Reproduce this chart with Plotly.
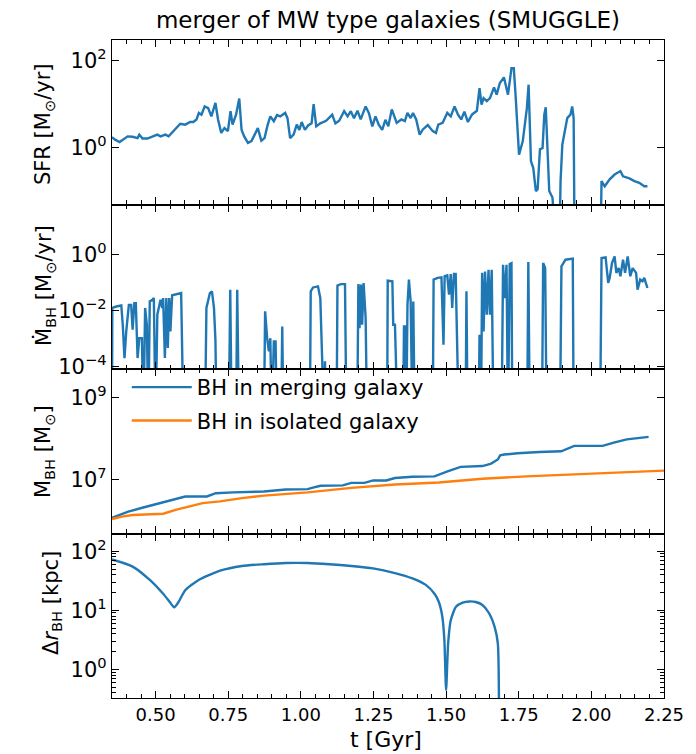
import numpy as np
import plotly.graph_objects as go
from plotly.subplots import make_subplots

# ---------------- data ----------------
# SFR panel: time [Gyr] and log10(SFR [Msun/yr]); -3 = dropped below the axis
sfr_t = [0.350, 0.359, 0.376, 0.393, 0.404, 0.421, 0.438, 0.444, 0.455, 0.472, 0.489, 0.506,
         0.517, 0.534, 0.545, 0.562, 0.585, 0.602, 0.619, 0.630, 0.641, 0.649, 0.658, 0.669,
         0.681, 0.692, 0.706, 0.715, 0.726, 0.737, 0.749, 0.758, 0.765, 0.777, 0.788, 0.796,
         0.805, 0.818, 0.830, 0.841, 0.852, 0.864, 0.875, 0.886, 0.895, 0.907, 0.918, 0.929,
         0.946, 0.954, 0.963, 0.975, 0.986, 0.995, 1.003, 1.014, 1.025, 1.037, 1.044, 1.053,
         1.067, 1.087, 1.108, 1.119, 1.132, 1.149, 1.161, 1.172, 1.183, 1.195, 1.206, 1.223,
         1.234, 1.246, 1.257, 1.268, 1.280, 1.291, 1.301, 1.313, 1.330, 1.346, 1.358, 1.367,
         1.378, 1.386, 1.397, 1.409, 1.420, 1.437, 1.454, 1.465, 1.473, 1.488, 1.504, 1.516,
         1.529, 1.541, 1.552, 1.563, 1.575, 1.589, 1.606, 1.615, 1.622, 1.629, 1.640, 1.651,
         1.665, 1.674, 1.685, 1.699, 1.713, 1.725, 1.733, 1.739, 1.751, 1.764, 1.778, 1.784,
         1.792, 1.800, 1.809, 1.815, 1.823, 1.832, 1.838, 1.843, 1.855, 1.866, 1.875, 1.888,
         1.894, 1.900, 1.917, 1.928, 1.934, 1.939, 1.943, 2.030, 2.035, 2.046, 2.063, 2.080,
         2.100, 2.109, 2.131, 2.148, 2.165, 2.182, 2.193]
sfr_log = [0.23, 0.18, 0.12, 0.20, 0.25, 0.24, 0.21, 0.29, 0.20, 0.20, 0.25, 0.29,
           0.25, 0.29, 0.25, 0.37, 0.54, 0.52, 0.58, 0.58, 0.64, 0.79, 0.75, 0.94,
           0.90, 0.71, 1.02, 0.64, 0.33, 0.44, 0.37, 0.83, 0.52, 0.75, 1.12, 0.40,
           0.25, 0.10, 0.14, 0.29, 0.44, 0.15, 0.21, 0.52, 0.71, 0.60, 0.74, 0.71,
           0.79, 0.67, 0.21, 0.29, 0.52, 0.40, 0.58, 0.40, 0.50, 0.55, 0.99, 0.48,
           0.55, 0.61, 0.75, 0.55, 0.61, 0.83, 0.71, 0.83, 0.67, 0.84, 0.64, 0.94,
           0.79, 0.48, 0.71, 0.52, 0.40, 0.63, 0.48, 0.87, 0.56, 0.64, 0.60, 0.79,
           0.67, 0.79, 0.64, 0.29, 0.41, 0.51, 0.37, 0.33, 0.52, 0.56, 0.79, 0.71,
           0.94, 0.75, 0.64, 0.82, 0.58, 0.75, 0.84, 1.36, 0.98, 1.13, 1.06, 1.13,
           1.38, 1.21, 1.48, 1.61, 1.21, 1.82, 1.82, 1.21, -0.17, 0.14, 0.90, 1.44,
           -0.32, -0.48, -1.01, -0.97, -0.05, -0.02, 0.75, 0.92, -1.01, -1.16, -3.0, -3.0,
           -0.78, 0.06, 0.67, 0.75, 0.94, 0.67, -3.0, -3.0, -0.78, -0.90, -0.74, -0.63,
           -0.55, -0.67, -0.72, -0.78, -0.82, -0.90, -0.90]

# BH accretion rate: time [Gyr] and log10(Mdot [Msun/yr]); -6 = no accretion
mdot_t = [0.350, 0.351, 0.365, 0.382, 0.387, 0.393, 0.399, 0.408, 0.416, 0.421, 0.427, 0.432,
          0.438, 0.444, 0.453, 0.458, 0.464, 0.470, 0.475, 0.480, 0.489, 0.494, 0.500, 0.506,
          0.517, 0.523, 0.526, 0.532, 0.537, 0.542, 0.547, 0.551, 0.557, 0.579, 0.588, 0.596,
          0.670, 0.675, 0.687, 0.694, 0.701, 0.706, 0.710, 0.752, 0.757, 0.762, 0.777, 0.781,
          0.787, 0.873, 0.877, 0.884, 0.890, 0.895, 0.900, 0.907, 0.913, 0.918, 0.932, 0.936,
          0.940, 1.031, 1.034, 1.042, 1.059, 1.067, 1.074, 1.080, 1.083, 1.087, 1.123, 1.126,
          1.138, 1.152, 1.157, 1.194, 1.198, 1.202, 1.207, 1.211, 1.216, 1.223, 1.228, 1.297,
          1.299, 1.307, 1.315, 1.318, 1.324, 1.333, 1.352, 1.355, 1.360, 1.363, 1.367, 1.372,
          1.378, 1.384, 1.387, 1.392, 1.454, 1.457, 1.471, 1.484, 1.491, 1.495, 1.504, 1.510,
          1.516, 1.521, 1.527, 1.533, 1.538, 1.544, 1.567, 1.570, 1.574, 1.612, 1.615, 1.620,
          1.624, 1.629, 1.634, 1.640, 1.646, 1.651, 1.657, 1.663, 1.691, 1.696, 1.702, 1.708,
          1.713, 1.719, 1.725, 1.728, 1.779, 1.783, 1.788, 1.830, 1.834, 1.841, 1.846, 1.892,
          1.897, 1.911, 1.928, 1.936, 1.939, 2.030, 2.035, 2.049, 2.058, 2.063, 2.071, 2.080,
          2.086, 2.094, 2.100, 2.109, 2.116, 2.125, 2.134, 2.142, 2.154, 2.159, 2.168, 2.176,
          2.182, 2.193]
mdot_log = [-6, -1.90, -1.85, -1.81, -2.50, -3.69, -2.74, -1.79, -1.79, -2.68, -1.73, -1.73,
            -3.69, -2.98, -2.98, -6, -1.90, -2.50, -6, -1.67, -1.61, -1.55, -6, -2.14,
            -1.61, -1.90, -1.55, -3.69, -1.55, -3.33, -1.55, -2.74, -1.45, -1.40, -1.37, -6,
            -6, -1.90, -1.37, -1.31, -1.90, -3.04, -6, -6, -1.25, -6, -6, -1.25,
            -6, -6, -2.02, -2.98, -3.45, -2.98, -6, -3.10, -3.10, -6, -6, -2.56,
            -6, -6, -1.31, -1.17, -1.13, -1.55, -6, -6, -3.80, -6, -6, -1.10,
            -1.05, -1.05, -6, -6, -1.05, -2.62, -1.07, -2.50, -1.01, -2.26, -6, -6,
            -0.93, -0.95, -0.95, -2.50, -2.50, -6, -6, -2.56, -2.56, -6, -1.79, -0.89,
            -1.67, -6, -1.67, -6, -6, -0.89, -0.83, -0.81, -3.21, -0.77, -0.74, -1.43,
            -0.69, -1.90, -0.69, -0.69, -3.21, -6, -6, -1.31, -6, -6, -2.86, -6,
            -0.65, -2.74, -0.60, -2.14, -0.54, -2.14, -0.54, -6, -6, -0.36, -1.55, -0.36,
            -6, -0.33, -0.30, -6, -6, -0.26, -6, -6, -0.30, -0.48, -6, -6,
            -0.42, -0.18, -0.14, -0.14, -6, -6, -0.12, -0.10, -1.01, -0.83, -0.30, -0.06,
            -0.65, -0.48, -0.77, -0.18, -0.65, -0.06, -0.77, -0.48, -0.65, -1.25, -0.89, -0.95,
            -0.83, -1.19]

# BH mass: merging galaxy (blue) and isolated galaxy (orange), log10(M [Msun])
mbh_merge_t = [0.350, 0.376, 0.406, 0.451, 0.497, 0.542, 0.572, 0.602, 0.677, 0.707, 0.767,
               0.873, 0.948, 1.023, 1.038, 1.068, 1.144, 1.174, 1.219, 1.249, 1.294, 1.324,
               1.384, 1.460, 1.505, 1.550, 1.625, 1.655, 1.678, 1.686, 1.700, 1.746, 1.821,
               1.896, 1.941, 1.986, 2.039, 2.077, 2.122, 2.197]
mbh_merge_log = [6.07, 6.14, 6.22, 6.31, 6.39, 6.47, 6.53, 6.59, 6.59, 6.67, 6.69,
                 6.71, 6.76, 6.77, 6.80, 6.85, 6.86, 6.92, 6.92, 6.98, 6.98, 7.04,
                 7.07, 7.08, 7.20, 7.31, 7.33, 7.39, 7.49, 7.59, 7.61, 7.64, 7.67,
                 7.69, 7.82, 7.82, 7.82, 7.90, 7.98, 8.04]
mbh_iso_t = [0.350, 0.384, 0.421, 0.526, 0.572, 0.617, 0.662, 0.722, 0.797, 0.873, 1.023,
             1.174, 1.324, 1.475, 1.625, 1.776, 1.926, 2.077, 2.254]
mbh_iso_log = [6.04, 6.10, 6.14, 6.17, 6.27, 6.35, 6.43, 6.47, 6.55, 6.61, 6.69,
               6.80, 6.88, 6.93, 7.02, 7.08, 7.12, 7.16, 7.22]

# BH separation: log10(dr [kpc]); -2 = merged (drops off the axis)
dr_t = [0.350, 0.421, 0.481, 0.526, 0.549, 0.564, 0.579, 0.602, 0.647, 0.722, 0.797, 0.873,
        0.948, 1.023, 1.098, 1.174, 1.249, 1.324, 1.384, 1.430, 1.460, 1.475, 1.487, 1.494,
        1.500, 1.507, 1.516, 1.534, 1.557, 1.580, 1.602, 1.625, 1.648, 1.667, 1.678, 1.682]
dr_log = [1.86, 1.74, 1.51, 1.28, 1.14, 1.05, 1.14, 1.34, 1.51, 1.67, 1.75, 1.78,
          1.80, 1.80, 1.78, 1.75, 1.71, 1.63, 1.54, 1.43, 1.28, 1.14, 0.89, 0.50,
          -0.35, 0.44, 0.83, 1.06, 1.13, 1.15, 1.14, 1.09, 0.95, 0.72, 0.44, -2.0]

# axis ticks
x_tickvals = [0.50, 0.75, 1.00, 1.25, 1.50, 1.75, 2.00, 2.25]
sfr_ticks = [1, 100]
sfr_ticktext = ["10<sup>0</sup>", "10<sup>2</sup>"]
mdot_ticks = [1e-4, 1e-2, 1]
mdot_ticktext = ["10<sup>\u22124</sup>", "10<sup>\u22122</sup>", "10<sup>0</sup>"]
mbh_ticks = [1e7, 1e9]
mbh_ticktext = ["10<sup>7</sup>", "10<sup>9</sup>"]
dr_ticks = [1, 10, 100]
dr_ticktext = ["10<sup>0</sup>", "10<sup>1</sup>", "10<sup>2</sup>"]

title_text = "merger of MW type galaxies (SMUGGLE)"
legend_names = ["BH in merging galaxy", "BH in isolated galaxy"]

# ---------------- figure ----------------
BLUE = "#1f77b4"
ORANGE = "#ff7f0e"
FONT = "DejaVu Sans"

# the page body adds an 8 px margin, so the figure is 8 px smaller and
# all pixel positions below are screen positions minus that offset
OFF = 8
W, H = 696 - OFF, 754 - OFF
ML, MR, MT, MB = 112 - OFF, 23, 40 - OFF, 56
PW, PH = W - ML - MR, H - MT - MB

fig = make_subplots(rows=4, cols=1, shared_xaxes=True, vertical_spacing=0)

def lin(v):
    return [10.0 ** a for a in v]

lw = 2.4
fig.add_trace(go.Scatter(x=sfr_t, y=lin(sfr_log), mode="lines", line=dict(color=BLUE, width=lw),
                         showlegend=False), row=1, col=1)
fig.add_trace(go.Scatter(x=mdot_t, y=lin(mdot_log), mode="lines", line=dict(color=BLUE, width=lw),
                         showlegend=False), row=2, col=1)
fig.add_trace(go.Scatter(x=mbh_merge_t, y=lin(mbh_merge_log), mode="lines", line=dict(color=BLUE, width=lw),
                         name=legend_names[0], legendgroup="a"), row=3, col=1)
fig.add_trace(go.Scatter(x=mbh_iso_t, y=lin(mbh_iso_log), mode="lines", line=dict(color=ORANGE, width=lw),
                         name=legend_names[1], legendgroup="b"), row=3, col=1)
fig.add_trace(go.Scatter(x=dr_t, y=lin(dr_log), mode="lines", line=dict(color=BLUE, width=lw, shape="spline", smoothing=0.6),
                         showlegend=False), row=4, col=1)

axis_common = dict(showline=True, linecolor="black", linewidth=1.3, mirror="ticks",
                   ticks="inside", ticklen=7, tickwidth=1.2, tickcolor="black",
                   showgrid=False, zeroline=False)

for r in range(1, 5):
    fig.update_xaxes(range=[0.35, 2.25], tickvals=x_tickvals, tickformat=".2f",
                     minor=dict(ticks="inside", dtick=0.05, tick0=0.35, ticklen=4, tickwidth=1.0,
                                tickcolor="black", showgrid=False),
                     tickfont=dict(family=FONT, size=18, color="black"),
                     row=r, col=1, **axis_common)

yfont = dict(family=FONT, size=21, color="black")
fig.update_yaxes(type="log", range=[-1.32, 2.47], tickvals=sfr_ticks, ticktext=sfr_ticktext,
                 tickfont=yfont, row=1, col=1, **axis_common)
fig.update_yaxes(type="log", range=[-4.08, 1.79], tickvals=mdot_ticks, ticktext=mdot_ticktext,
                 tickfont=yfont, row=2, col=1, **axis_common)
fig.update_yaxes(type="log", range=[5.69, 9.69], tickvals=mbh_ticks, ticktext=mbh_ticktext,
                 tickfont=yfont, row=3, col=1, **axis_common)
dr_minor = [m * 10.0 ** k for k in range(-1, 3) for m in range(2, 10)]
fig.update_yaxes(type="log", range=[-0.485, 2.30], tickvals=dr_ticks, ticktext=dr_ticktext,
                 tickfont=yfont,
                 minor=dict(tickvals=dr_minor, ticks="inside", ticklen=4, tickwidth=1.0, tickcolor="black",
                            showgrid=False),
                 row=4, col=1, **axis_common)

# helpers: screen pixel -> paper coordinate
def px(xpix):
    return (xpix - OFF - ML) / PW

def py(ypix):
    return (H - MB - (ypix - OFF)) / PH

ytitles = [
    ("SFR [M<sub>\u2299</sub>/yr]", 43, 124),
    ("M\u0307<sub>BH</sub> [M<sub>\u2299</sub>/yr]", 43, 286),
    ("M<sub>BH</sub> [M<sub>\u2299</sub>]", 43, 452),
    ("\u0394<i>r</i><sub>BH</sub> [kpc]", 51, 603),
]
for txt, xx, yy in ytitles:
    fig.add_annotation(text=txt, xref="paper", yref="paper", x=px(xx), y=py(yy),
                       xanchor="center", yanchor="middle", textangle=-90, showarrow=False,
                       font=dict(family=FONT, size=21, color="black"))

fig.add_annotation(text="t [Gyr]", xref="paper", yref="paper", x=px(390), y=py(739),
                   xanchor="center", yanchor="middle", showarrow=False,
                   font=dict(family=FONT, size=22, color="black"))

fig.update_layout(
    width=W, height=H,
    margin=dict(l=ML, r=MR, t=MT, b=MB, pad=0),
    paper_bgcolor="white", plot_bgcolor="white",
    title=dict(text=title_text, x=0.5, xref="paper", xanchor="center",
               y=1 - (20 - OFF) / H, yref="container", yanchor="middle",
               font=dict(family=FONT, size=23, color="black")),
    showlegend=True,
    legend=dict(x=px(127), y=py(367), xanchor="left", yanchor="top",
                bgcolor="rgba(0,0,0,0)", borderwidth=0, itemwidth=60,
                tracegroupgap=3, traceorder="grouped",
                font=dict(family=FONT, size=21, color="black")),
)

fig.write_html("out.html")
